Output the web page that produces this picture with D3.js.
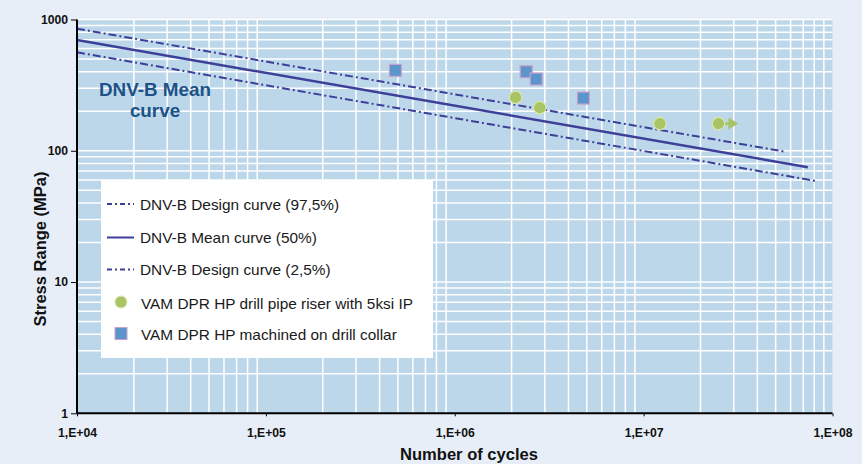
<!DOCTYPE html>
<html><head><meta charset="utf-8">
<script src="https://cdn.jsdelivr.net/npm/d3@7"></script>
<style>
body{margin:0;background:#e7eef8;}
svg{display:block;font-family:"Liberation Sans",Arial,sans-serif;}
</style></head><body>
<svg id="c" width="862" height="464"></svg>
<script>
// Data
const xTickValues = [1e4, 1e5, 1e6, 1e7, 1e8];
const xTickLabels = ["1,E+04", "1,E+05", "1,E+06", "1,E+07", "1,E+08"];
const yTickValues = [1, 10, 100, 1000];
const yTickLabels = ["1", "10", "100", "1000"];
const design975 = [[1e4, 851], [5.7e7, 98]];
const meanCurve = [[1e4, 698], [7.4e7, 75]];
const design25 = [[1e4, 562], [8.1e7, 59]];
const drillPipeRiser = [[2.1e6, 255], [2.82e6, 213], [1.22e7, 161], [2.49e7, 161]];
const runOutPoints = [[2.49e7, 161]];
const drillCollar = [[4.85e5, 410], [2.39e6, 400], [2.70e6, 352], [4.80e6, 252]];
const legendLabels = ["DNV-B Design curve (97,5%)", "DNV-B Mean curve (50%)", "DNV-B Design curve (2,5%)",
  "VAM DPR HP drill pipe riser with 5ksi IP", "VAM DPR HP machined on drill collar"];

const svg = d3.select("#c");
const L = 77, R = 832.5, T = 19.5, B = 413.3;
const x = d3.scaleLog().domain([1e4, 1e8]).range([L, R]);
const y = d3.scaleLog().domain([1, 1000]).range([B, T]);
const lineColor = "#3d3f98";

// scale font so that a given text reaches a target width
function fit(sel, target) {
  const fs = parseFloat(sel.attr("font-size"));
  const w = sel.node().getComputedTextLength();
  const nfs = fs * target / w;
  sel.attr("font-size", nfs);
  return nfs;
}

svg.append("rect").attr("x", L).attr("y", T).attr("width", R - L).attr("height", B - T).attr("fill", "#bdd7ea");

// grid
const gx = [], gy = [];
for (let e = 4; e < 8; e++) for (let k = 2; k <= 9; k++) gx.push(k * Math.pow(10, e));
for (let e = 0; e < 3; e++) for (let k = 2; k <= 9; k++) gy.push(k * Math.pow(10, e));
gy.push(10, 100);
svg.append("g").selectAll("line").data(gx).join("line")
  .attr("x1", d => x(d)).attr("x2", d => x(d)).attr("y1", T).attr("y2", B)
  .attr("stroke", "#fff").attr("stroke-width", 1.5);
svg.append("g").selectAll("line").data(gy).join("line")
  .attr("y1", d => y(d)).attr("y2", d => y(d)).attr("x1", L).attr("x2", R)
  .attr("stroke", "#fff").attr("stroke-width", 1.5);
svg.append("line").attr("x1", L).attr("x2", R).attr("y1", T).attr("y2", T).attr("stroke", "#fff").attr("stroke-width", 1.5);

// curves
const lg = d3.line().x(d => x(d[0])).y(d => y(d[1]));
const dashDot = "8,3,2,3";
svg.append("path").datum(design975).attr("d", lg).attr("fill", "none").attr("stroke", lineColor).attr("stroke-width", 2).attr("stroke-dasharray", dashDot);
svg.append("path").datum(meanCurve).attr("d", lg).attr("fill", "none").attr("stroke", lineColor).attr("stroke-width", 2.5);
svg.append("path").datum(design25).attr("d", lg).attr("fill", "none").attr("stroke", lineColor).attr("stroke-width", 2).attr("stroke-dasharray", dashDot);

// run-out arrows
runOutPoints.forEach(p => {
  const cx = x(p[0]), cy = y(p[1]);
  svg.append("line").attr("x1", cx).attr("x2", cx + 12).attr("y1", cy).attr("y2", cy).attr("stroke", "#a9c465").attr("stroke-width", 2.5);
  svg.append("path").attr("d", `M${cx + 10},${cy - 6}L${cx + 20},${cy}L${cx + 10},${cy + 6}Z`).attr("fill", "#a9c465");
});

// points
svg.append("g").selectAll("circle").data(drillPipeRiser).join("circle")
  .attr("cx", d => x(d[0])).attr("cy", d => y(d[1])).attr("r", 6.2)
  .attr("fill", "#a9c465").attr("stroke", "#d8e6ac").attr("stroke-width", 1.2);
svg.append("g").selectAll("rect").data(drillCollar).join("rect")
  .attr("x", d => x(d[0]) - 6).attr("y", d => y(d[1]) - 6).attr("width", 12).attr("height", 12)
  .attr("fill", "#5b95cc").attr("stroke", "#c8a2cc").attr("stroke-width", 1.2);

// axes
const xAxis = d3.axisBottom(x).tickValues(xTickValues).tickFormat((d, i) => xTickLabels[i]).tickSize(3).tickPadding(12);
const gxA = svg.append("g").attr("transform", `translate(0,${B})`).call(xAxis);
gxA.select(".domain").attr("stroke", "#000").attr("stroke-width", 2).attr("d", `M${L},0H${R}`);
gxA.selectAll(".tick line").attr("stroke", "#000");
gxA.selectAll("text").attr("font-size", 11).attr("font-weight", "bold").attr("fill", "#111").attr("font-family", "Liberation Sans, Arial, sans-serif");
const xfs = fit(gxA.select(".tick text"), 39);
gxA.selectAll("text").attr("font-size", xfs);

const yAxis = d3.axisLeft(y).tickValues(yTickValues).tickFormat((d, i) => yTickLabels[i]).tickSize(6).tickPadding(3);
const gyA = svg.append("g").attr("transform", `translate(${L},0)`).call(yAxis);
gyA.select(".domain").attr("stroke", "#000").attr("stroke-width", 2).attr("d", `M0,${T}V${B}`);
gyA.selectAll(".tick line").attr("stroke", "#000");
gyA.selectAll("text").attr("font-size", xfs).attr("font-weight", "bold").attr("fill", "#111").attr("font-family", "Liberation Sans, Arial, sans-serif");

// axis titles
const xt = svg.append("text").attr("x", 469).attr("y", 460).attr("text-anchor", "middle")
  .attr("font-size", 14).attr("font-weight", "bold").attr("fill", "#111").text("Number of cycles");
fit(xt, 138);
const yt = svg.append("text").attr("transform", "translate(46,249) rotate(-90)").attr("text-anchor", "middle")
  .attr("font-size", 14).attr("font-weight", "bold").attr("fill", "#111").text("Stress Range (MPa)");
fit(yt, 155);

// annotation (two separate lines)
const a1 = svg.append("text").attr("text-anchor", "middle").attr("font-size", 18).attr("font-weight", "bold")
  .attr("fill", "#1c5286").attr("x", 155).attr("y", 96).text("DNV-B Mean");
const afs = fit(a1, 112);
svg.append("text").attr("text-anchor", "middle").attr("font-size", afs).attr("font-weight", "bold")
  .attr("fill", "#1c5286").attr("x", 155).attr("y", 116.5).text("curve");

// legend
const lgX = 101, lgY = 180;
svg.append("rect").attr("x", lgX).attr("y", lgY).attr("width", 332).attr("height", 178).attr("fill", "#fff");
const rowY = [204, 237.5, 269.5, 303, 334.5];
const legTexts = [];
legendLabels.forEach((t, i) => {
  const yy = rowY[i];
  if (i < 3) {
    svg.append("line").attr("x1", 107).attr("x2", 134).attr("y1", yy).attr("y2", yy)
      .attr("stroke", lineColor).attr("stroke-width", 2).attr("stroke-dasharray", i === 1 ? null : "5,3,2,3");
  } else if (i === 3) {
    svg.append("circle").attr("cx", 121).attr("cy", yy - 1).attr("r", 6).attr("fill", "#a9c465").attr("stroke", "#d8e6ac");
  } else {
    svg.append("rect").attr("x", 115).attr("y", yy - 7).attr("width", 12).attr("height", 12).attr("fill", "#5b95cc").attr("stroke", "#c8a2cc");
  }
  legTexts.push(svg.append("text").attr("x", i < 3 ? 140 : 141).attr("y", yy + 5.5).attr("font-size", 14).attr("fill", "#1a1a1a").text(t));
});
const w0 = legTexts[0].node().getComputedTextLength();
const w3 = legTexts[3].node().getComputedTextLength();
const lfs = 14 * ((199 / w0) + (272.7 / w3)) / 2;
legTexts.forEach(s => s.attr("font-size", lfs));
</script>
</body></html>
